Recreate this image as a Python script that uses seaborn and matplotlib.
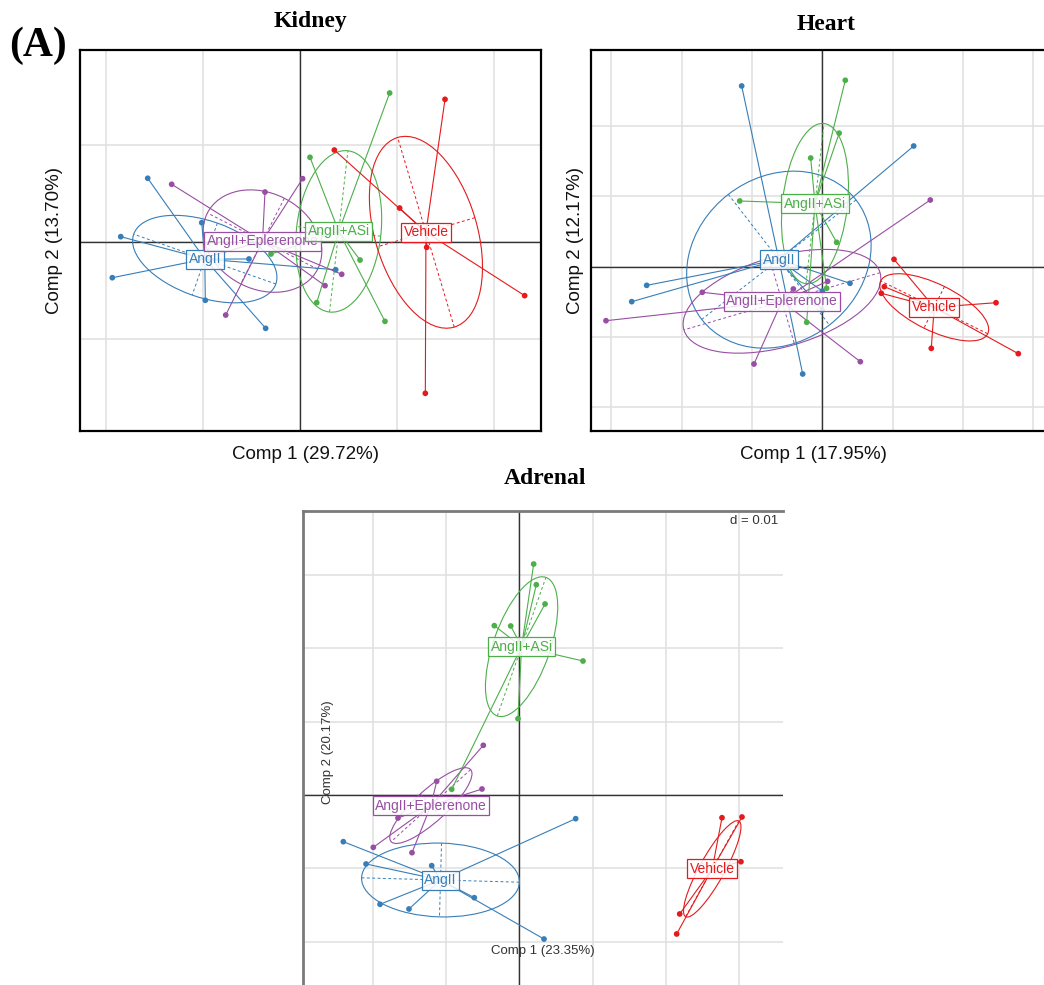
import numpy as np
import pandas as pd
import seaborn as sns
import matplotlib.pyplot as plt
from matplotlib.patches import Ellipse

# group names and colours (RColorBrewer Set1 order used by ade4)
groups = ["AngII", "AngII+Eplerenone", "AngII+ASi", "Vehicle"]
group_colors = ["#377EB8", "#984EA3", "#4DAF4A", "#E41A1C"]

# Kidney scores (units of the grid step d)
kidney_group = ["AngII"] * 8 + ["AngII+Eplerenone"] * 7 + ["AngII+ASi"] * 6 + ["Vehicle"] * 6
kidney_x = [-1.570, -1.848, -1.935, -1.013, -0.976, -0.354, -0.526, 0.368,
            -1.323, -0.361, 0.027, -0.766, 0.258, 0.430, -0.970,
            0.924, 0.103, 0.619, 0.876, 0.172, -0.299,
            1.495, 0.354, 1.027, 1.306, 2.316, 1.292]
kidney_y = [0.657, 0.055, -0.368, 0.199, -0.601, -0.890, -0.175, -0.286,
            0.595, 0.515, 0.653, -0.753, -0.450, -0.333, -0.160,
            1.536, 0.873, -0.186, -0.818, -0.625, -0.124,
            1.471, 0.948, 0.350, -0.055, -0.553, -1.560]

# Heart scores
heart_group = ["AngII"] * 8 + ["AngII+Eplerenone"] * 7 + ["AngII+ASi"] * 7 + ["Vehicle"] * 6
heart_x = [-1.147, -2.498, -2.711, -0.279, 1.300, 0.394, 0.000, 0.000,
           -3.077, -1.707, -0.972, -0.412, 0.076, 1.536, 0.541,
           -1.175, -0.165, 0.240, 0.204, -0.222, 0.062, 0.327,
           1.020, 0.882, 0.839, 2.471, 1.550, 2.788]
heart_y = [2.568, -0.268, -0.500, -1.529, 1.714, -0.239, -0.349, -0.619,
           -0.771, -0.367, -1.387, -0.320, -0.211, 0.946, -1.354,
           0.932, 1.543, 1.897, 0.344, -0.794, -0.310, 2.649,
           0.102, -0.287, -0.381, -0.515, -1.164, -1.240]

# Adrenal scores
adrenal_group = ["AngII"] * 8 + ["AngII+Eplerenone"] * 6 + ["AngII+ASi"] * 8 + ["Vehicle"] * 5
adrenal_x = [-2.401, -2.091, -1.900, -1.505, -1.195, -0.614, 0.337, 0.769,
             -0.491, -0.509, -1.127, -1.655, -1.992, -1.464,
             0.196, 0.232, 0.351, -0.341, -0.117, 0.869, -0.018, -0.922,
             2.765, 3.038, 3.024, 2.188, 2.147]
adrenal_y = [-0.637, -0.941, -1.491, -1.555, -0.964, -1.401, -1.965, -0.323,
             0.678, 0.082, 0.187, -0.314, -0.714, -0.787,
             3.151, 2.869, 2.606, 2.310, 2.306, 1.828, 1.041, 0.078,
             -0.310, -0.300, -0.910, -1.623, -1.896]

W, H = 1044, 985
sns.set_theme(style="white")
plt.rcParams["font.family"] = ["Liberation Sans", "DejaVu Sans"]

fig = plt.figure(figsize=(W / 100, H / 100), dpi=100)
palette = dict(zip(groups, group_colors))


def px_axes(left, top, right, bottom):
    return fig.add_axes([left / W, 1 - bottom / H, (right - left) / W, (bottom - top) / H])


def s_class(ax, xs, ys, gs, xlim, ylim, xgrid, ygrid, frame_color="black", frame_lw=1.6):
    df = pd.DataFrame({"x": xs, "y": ys, "group": gs})
    ax.set_xlim(*xlim)
    ax.set_ylim(*ylim)
    ax.set_xticks(xgrid)
    ax.set_yticks(ygrid)
    ax.grid(True, color="#e2e2e2", lw=1.2)
    ax.set_axisbelow(True)
    ax.tick_params(left=False, bottom=False, labelleft=False, labelbottom=False)
    ax.axhline(0, color="#333333", lw=1.0, zorder=1)
    ax.axvline(0, color="#333333", lw=1.0, zorder=1)
    for sp in ax.spines.values():
        sp.set_color(frame_color)
        sp.set_linewidth(frame_lw)

    centres = {}
    for g in groups:
        sub = df[df["group"] == g]
        col = palette[g]
        cx, cy = sub["x"].mean(), sub["y"].mean()
        centres[g] = (cx, cy)
        cov = np.cov(sub["x"], sub["y"], bias=True)
        vals, vecs = np.linalg.eigh(cov)
        vals = np.clip(vals, 0, None)
        ang = np.degrees(np.arctan2(vecs[1, 1], vecs[0, 1]))
        ax.add_patch(Ellipse((cx, cy), 2 * np.sqrt(vals[1]), 2 * np.sqrt(vals[0]),
                             angle=ang, fill=False, ec=col, lw=0.8, zorder=2))
        # ellipse axes (dashed)
        for k in (0, 1):
            v = vecs[:, k] * np.sqrt(vals[k])
            ax.plot([cx - v[0], cx + v[0]], [cy - v[1], cy + v[1]],
                    color=col, lw=0.7, ls=(0, (3, 2.5)), zorder=2)
        # stars
        for px, py in zip(sub["x"], sub["y"]):
            ax.plot([cx, px], [cy, py], color=col, lw=0.8, zorder=3)

    sns.scatterplot(data=df, x="x", y="y", hue="group", palette=palette, ax=ax,
                    legend=False, s=17, linewidth=0, zorder=4)
    ax.set_xlabel("")
    ax.set_ylabel("")

    for g in groups:
        col = palette[g]
        cx, cy = centres[g]
        ax.text(cx, cy, g, ha="center", va="center", fontsize=10, color=col, zorder=6,
                bbox=dict(boxstyle="square,pad=0.18", fc=(1, 1, 1, 0.85), ec=col, lw=0.9))


# Kidney: origin (300, 242) px, d = 97 px
ax_k = px_axes(80, 50, 541, 431)
s_class(ax_k, kidney_x, kidney_y, kidney_group,
        ((80 - 300) / 97, (541 - 300) / 97), ((242 - 431) / 97, (242 - 50) / 97),
        [-2, -1, 0, 1, 2], [-1, 0, 1])

# Heart: origin (822.3, 266.5) px, d = 70.3 px
ax_h = px_axes(591, 50, 1052, 431)
s_class(ax_h, heart_x, heart_y, heart_group,
        ((591 - 822.3) / 70.3, (1052 - 822.3) / 70.3), ((266.5 - 431) / 70.3, (266.5 - 50) / 70.3),
        [-3, -2, -1, 0, 1, 2, 3], [-2, -1, 0, 1, 2])

# Adrenal: origin (519.3, 795) px, d = 73.3 px
ax_a = px_axes(303, 511, 783, 990)
s_class(ax_a, adrenal_x, adrenal_y, adrenal_group,
        ((303 - 519.3) / 73.3, (783 - 519.3) / 73.3), ((795 - 990) / 73.3, (795 - 511) / 73.3),
        [-2, -1, 0, 1, 2, 3], [-2, -1, 0, 1, 2, 3],
        frame_color="#7a7a7a", frame_lw=2.0)
ax_a.spines["right"].set_visible(False)
ax_a.spines["bottom"].set_visible(False)


def fig_text(x, y, s, **kw):
    fig.text(x / W, 1 - y / H, s, **kw)


serif = ["Liberation Serif", "DejaVu Serif"]
fig_text(38, 46, "(A)", fontsize=30, fontweight="bold", family=serif, color="black",
         ha="center", va="center")
fig_text(310, 22, "Kidney", fontsize=17, fontweight="bold", family=serif, color="black",
         ha="center", va="center")
fig_text(826, 24, "Heart", fontsize=17, fontweight="bold", family=serif, color="black",
         ha="center", va="center")
fig_text(545, 478, "Adrenal", fontsize=17, fontweight="bold", family=serif, color="black",
         ha="center", va="center")

fig_text(305, 455, "Comp 1 (29.72%)", fontsize=13.5, color="#111111", ha="center", va="center")
fig_text(55, 240, "Comp 2 (13.70%)", fontsize=13.5, color="#111111", ha="center", va="center",
         rotation=90)
fig_text(813, 455, "Comp 1 (17.95%)", fontsize=13.5, color="#111111", ha="center", va="center")
fig_text(575, 240, "Comp 2 (12.17%)", fontsize=13.5, color="#111111", ha="center", va="center",
         rotation=90)
fig_text(543, 951, "Comp 1 (23.35%)", fontsize=9.5, color="#333333", ha="center", va="center",
         zorder=10)
fig_text(328, 752, "Comp 2 (20.17%)", fontsize=9.5, color="#333333", ha="center", va="center",
         rotation=90, zorder=10)
fig_text(778, 521, "d = 0.01", fontsize=9.5, color="#333333", ha="right", va="center", zorder=10)

fig.savefig("out.png", dpi=100)
